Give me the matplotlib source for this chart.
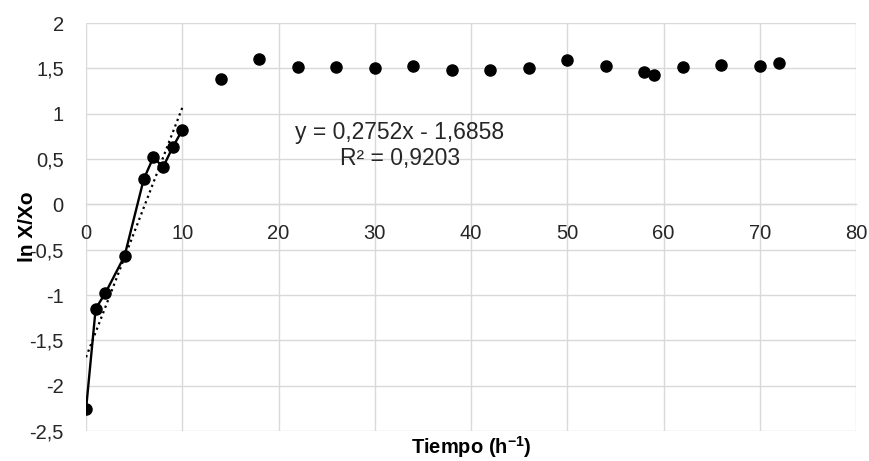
import matplotlib
matplotlib.use('Agg')
import matplotlib.pyplot as plt
import numpy as np

plt.rcParams.update({
    'font.family': ['Liberation Sans', 'DejaVu Sans'],
    'mathtext.fontset': 'custom',
    'mathtext.rm': 'Liberation Sans',
    'mathtext.bf': 'Liberation Sans:bold',
})

# growth phase (joined by a line)
t_exp = [0, 1, 2, 4, 6, 7, 8, 9, 10]
lnx_exp = [-2.26, -1.15, -0.98, -0.57, 0.28, 0.52, 0.41, 0.63, 0.82]

# stationary phase (markers only)
t_sta = [14, 18, 22, 26, 30, 34, 38, 42, 46, 50, 54, 58, 59, 62, 66, 70, 72]
lnx_sta = [1.38, 1.60, 1.51, 1.51, 1.50, 1.53, 1.48, 1.48, 1.50, 1.59,
           1.53, 1.46, 1.43, 1.51, 1.54, 1.53, 1.56]

# linear fit shown on the chart
slope, intercept = 0.2752, -1.6858
fit_range = [0, 10]

yticks = [-2.5, -2, -1.5, -1, -0.5, 0, 0.5, 1, 1.5, 2]
ytick_labels = ['-2,5', '-2', '-1,5', '-1', '-0,5', '0', '0,5', '1', '1,5', '2']
xticks = [0, 10, 20, 30, 40, 50, 60, 70, 80]

fig = plt.figure(figsize=(8.7, 4.61), dpi=100)
ax = fig.add_axes([0.0989, 0.065, 0.885, 0.885])

grid_c = '#d9d9d9'
text_c = '#262626'

ax.plot(t_exp, lnx_exp, color='black', linewidth=1.7, marker='o',
        markersize=8, zorder=4)
ax.plot(t_sta, lnx_sta, linestyle='none', color='black', marker='o',
        markersize=8, zorder=4)

xf = np.array(fit_range, dtype=float)
ax.plot(xf, slope * xf + intercept, color='black', linestyle=':',
        linewidth=1.6, zorder=3)

ax.text(32.6, 0.65, 'y = 0,2752x - 1,6858\nR² = 0,9203', ha='center',
        va='center', multialignment='center', fontsize=16.5, color=text_c,
        linespacing=1.15)

ax.set_xlim(0, 80)
ax.set_ylim(-2.5, 2)
ax.set_xticks(xticks)
ax.set_yticks(yticks)
ax.set_yticklabels(ytick_labels)

ax.grid(True, color=grid_c, linewidth=1.0)
ax.set_axisbelow(True)
for side in ['top', 'right', 'left']:
    ax.spines[side].set_visible(False)
ax.spines['bottom'].set_position(('data', 0))
ax.spines['bottom'].set_color(grid_c)
ax.spines['bottom'].set_linewidth(1.0)

ax.tick_params(axis='x', length=0, pad=14, labelsize=14.5, labelcolor=text_c)
ax.tick_params(axis='y', length=0, pad=16, labelsize=14.5, labelcolor=text_c)

ax.set_xlabel(r'Tiempo (h$^{\mathbf{-1}}$)', fontsize=14.5, fontweight='bold',
              color='black', va='top')
ax.xaxis.set_label_coords(0.5, -0.008)
ax.set_ylabel('ln X/Xo', fontsize=15, fontweight='bold', color='black')
ax.yaxis.set_label_coords(-0.064, 0.5)

fig.savefig('out.png', dpi=100)
